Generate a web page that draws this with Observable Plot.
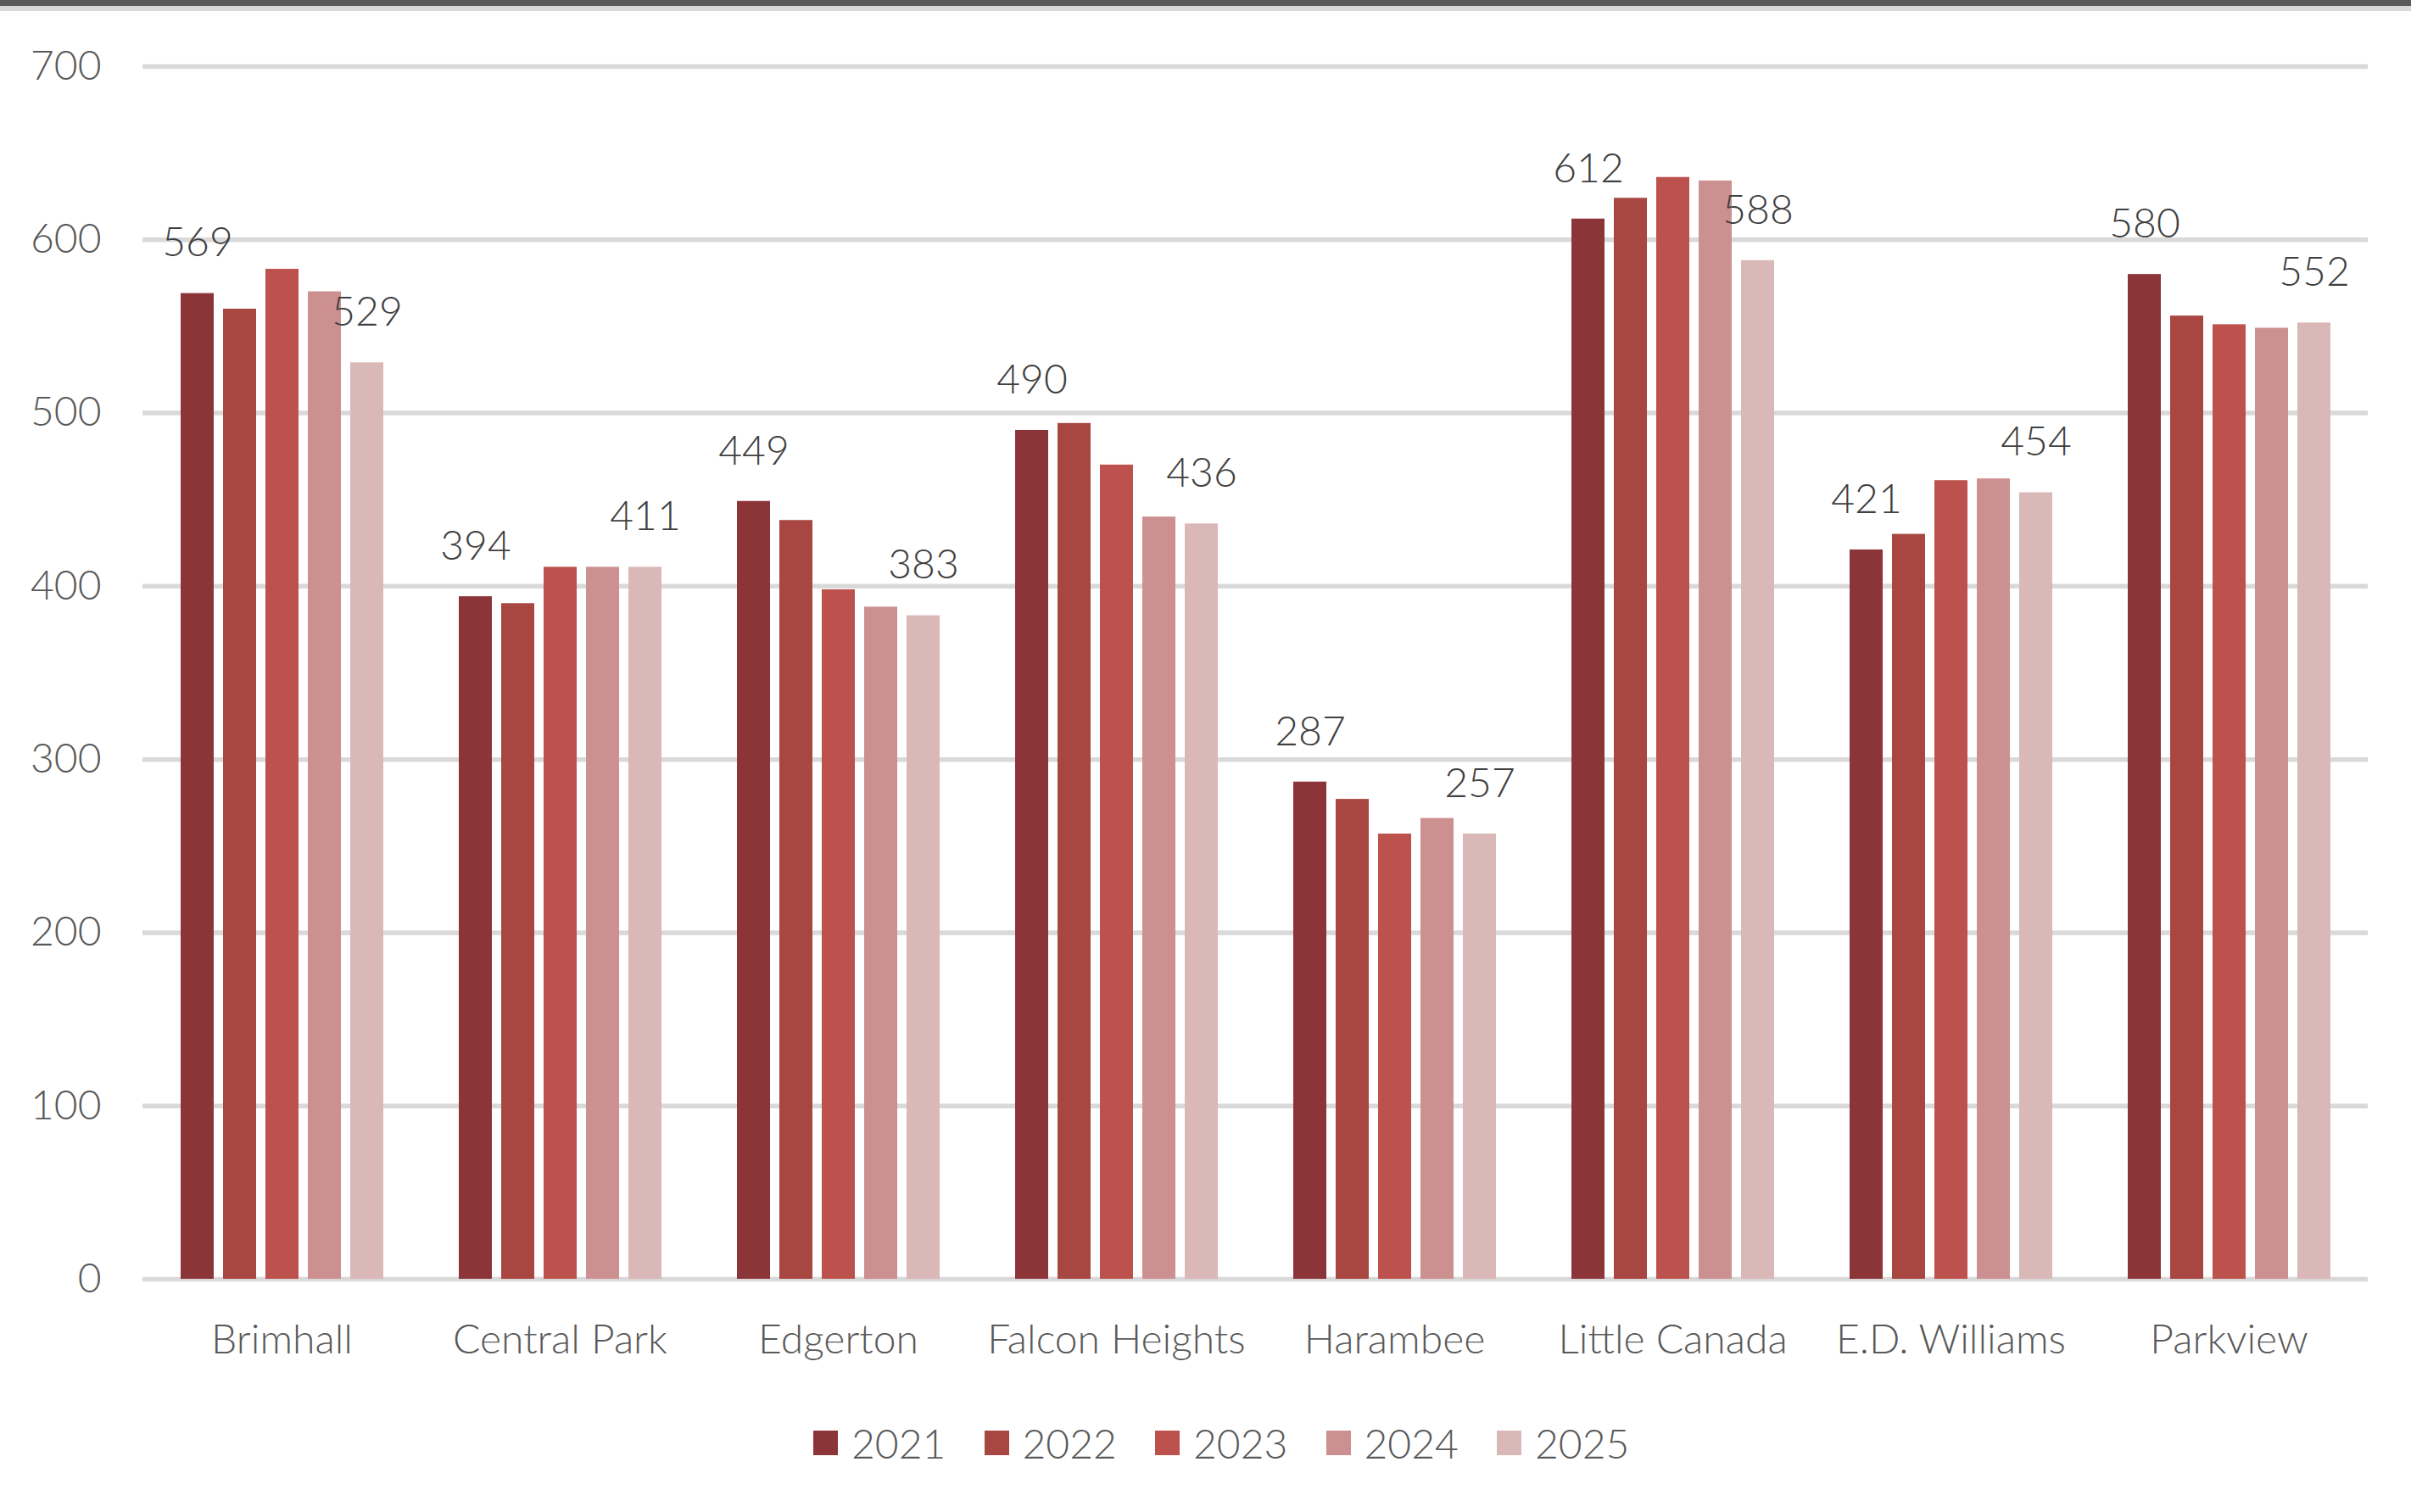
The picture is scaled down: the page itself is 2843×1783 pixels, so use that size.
<!DOCTYPE html>
<html>
<head>
<meta charset="utf-8">
<script src="https://cdn.jsdelivr.net/npm/d3@7"></script>
<script src="https://cdn.jsdelivr.net/npm/@observablehq/plot@0.6"></script>
<style>
  html, body { margin: 0; padding: 0; background: #fff; }
  #wrap { position: relative; width: 2843px; height: 1783px; overflow: hidden; background: #fff; font-family: Lato, "Open Sans", sans-serif; font-weight: 300; }
  #topDark { position: absolute; left: 0; top: 0; width: 2843px; height: 7px; background: #595959; }
  #topLight { position: absolute; left: 0; top: 7px; width: 2843px; height: 6px; background: #D9D9D9; }
  #chart { position: absolute; left: 0; top: 0; }
  #chart text { font-weight: 300; }
  #legend { position: absolute; left: 0; top: 1676px; width: 2843px; height: 50px; }
  .item { position: absolute; top: 0; display: flex; align-items: center; height: 50px; font-size: 48px; color: #595959; }
  .sw { width: 29px; height: 29px; margin-right: 16px; }
</style>
</head>
<body>
<div id="wrap">
  <div id="chart"></div>
  <div id="topDark"></div>
  <div id="topLight"></div>
  <div id="legend"></div>
</div>
<script>
const schools = ["Brimhall", "Central Park", "Edgerton", "Falcon Heights", "Harambee", "Little Canada", "E.D. Williams", "Parkview"];
const years = ["2021", "2022", "2023", "2024", "2025"];
const v2021 = [569, 394, 449, 490, 287, 612, 421, 580];
const v2022 = [560, 390, 438, 494, 277, 624, 430, 556];
const v2023 = [583, 411, 398, 470, 257, 636, 461, 551];
const v2024 = [570, 411, 388, 440, 266, 634, 462, 549];
const v2025 = [529, 411, 383, 436, 257, 588, 454, 552];
const yTicks = [0, 100, 200, 300, 400, 500, 600, 700];
const colors = ["#8B3539", "#A84642", "#BD514D", "#CC9090", "#DAB8B7"];
const labeledYears = ["2021", "2025"];

const series = [v2021, v2022, v2023, v2024, v2025];
const data = [];
schools.forEach((s, i) => {
  years.forEach((yr, j) => data.push({school: s, year: yr, value: series[j][i]}));
});
const labels = data.filter(d => labeledYears.includes(d.year));

const chart = Plot.plot({
  width: 2843,
  height: 1640,
  marginLeft: 167,
  marginRight: 51,
  marginTop: 78,
  marginBottom: 132,
  style: {fontFamily: "Lato, 'Open Sans', sans-serif", fontSize: "48px", color: "#595959", background: "transparent"},
  fx: {domain: schools, padding: 0, label: null, axis: null},
  x: {domain: years, paddingInner: 0.22, paddingOuter: 0.85, axis: null},
  y: {domain: [0, 700], axis: null},
  color: {domain: years, range: colors},
  marks: [
    Plot.gridY(yTicks, {stroke: "#D9D9D9", strokeOpacity: 1, strokeWidth: 5.5}),
    Plot.axisY({ticks: yTicks, tickSize: 0, tickPadding: 49, label: null, fontSize: 48, fill: "#595959"}),
    Plot.axisFx({anchor: "bottom", tickSize: 0, tickPadding: 53, label: null, fontSize: 48, fill: "#595959"}),
    Plot.barY(data, {fx: "school", x: "year", y: "value", fill: "year"}),
    Plot.text(labels, {fx: "school", x: "year", y: "value", text: d => String(d.value), dy: -59, lineAnchor: "middle", fill: "#404040", fontSize: 48})
  ]
});
document.getElementById("chart").appendChild(chart);

const legend = document.getElementById("legend");
years.forEach((yr, j) => {
  const item = document.createElement("div");
  item.className = "item";
  item.style.left = (959 + j * 201.5) + "px";
  const sw = document.createElement("div");
  sw.className = "sw";
  sw.style.background = colors[j];
  const t = document.createElement("span");
  t.textContent = yr;
  item.appendChild(sw);
  item.appendChild(t);
  legend.appendChild(item);
});
</script>
</body>
</html>
